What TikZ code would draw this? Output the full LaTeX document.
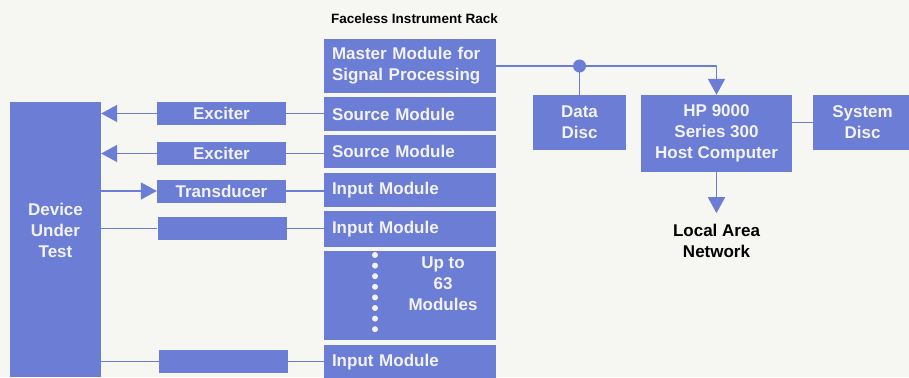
\documentclass[tikz,border=0pt]{standalone}
\usepackage{fontspec}
\setmainfont{Liberation Sans}
\usepackage{tikz}
\usetikzlibrary{positioning,arrows.meta}
\definecolor{hpblue}{RGB}{108,125,214}
\definecolor{paper}{RGB}{246,246,243}
\definecolor{boxtext}{RGB}{242,242,248}

\begin{document}
\begin{tikzpicture}[x=1pt, y=-1pt, >={Triangle[length=16pt,width=17pt]}, line join=round,
		blk/.style={fill=hpblue, text=boxtext, font=\bfseries\fontsize{17}{21}\selectfont, inner sep=0pt, align=center},
		rackmod/.style={blk, minimum width=172pt, text width=156pt, align=left},
		sidebox/.style={blk, minimum width=129pt, minimum height=23pt},
		sig/.style={draw=hpblue, line width=1.7pt}]
		\fill[paper] (0,0) rectangle (909,377);
		\useasboundingbox (0,0) rectangle (909,377);
		
		% device under test and its front ends
		\node[blk, minimum width=91pt, minimum height=275pt] (dut) at (55.5,239.5) {};
		\node[blk, fill=none] (dutlbl) at (55.5,230) {Device\\Under\\Test};
		\node[sidebox] (exa) at (221.5,113.5) {Exciter};
		\node[sidebox] (exb) at (221.5,153.5) {Exciter};
		\node[sidebox] (trd) at (221.5,191) {Transducer};
		\node[sidebox] (ema) at (222,228.5) {};
		\node[sidebox] (emb) at (223.5,361.5) {};
		
		% the rack
		\node[font=\bfseries\fontsize{13.5}{16}\selectfont] (ttl) at (414.5,18.5) {Faceless Instrument Rack};
		\node[rackmod, minimum height=54pt] (mst) at (410,66) {Master Module for\\Signal Processing};
		\node[rackmod, minimum height=34pt] (srca) at (410,114) {Source Module};
		\node[rackmod, minimum height=33pt] (srcb) at (410,151.5) {Source Module};
		\node[rackmod, minimum height=34pt] (inpa) at (410,190) {Input Module};
		\node[rackmod, minimum height=36pt] (inpb) at (410,229) {Input Module};
		\node[rackmod, minimum height=89pt] (upto) at (410,295.5) {};
		\node[rackmod, minimum height=34pt] (inpc) at (410,362) {Input Module};
		\node[blk, fill=none] (uptxt) at (443,284) {Up to\\63\\Modules};
		\foreach \k in {0,...,7}
			\fill[boxtext] (375,255+10.6*\k) circle (3pt);
		
		% host side
		\node[blk, minimum width=93pt, minimum height=55pt] (dat) at (579.5,122.5) {Data\\Disc};
		\node[blk, minimum width=151pt, minimum height=77pt] (hp) at (716.5,133.5) {HP 9000\\Series 300\\Host Computer};
		\node[blk, minimum width=99pt, minimum height=55pt] (sys) at (862.5,122.5) {System\\Disc};
		\node[font=\bfseries\fontsize{17}{21}\selectfont, align=center, inner sep=0pt, below=52pt of hp] (lan) {Local Area\\Network};
		
		\draw[sig,->] (exa.west) -- (exa.west -| dut.east);
		\draw[sig,->] (exb.west) -- (exb.west -| dut.east);
		\draw[sig,->] (trd.west -| dut.east) -- (trd.west);
		\draw[sig] (ema.west -| dut.east) -- (ema.west);
		\draw[sig] (emb.west -| dut.east) -- (emb.west);
		\draw[sig] (exa.east) -- (exa.east -| srca.west);
		\draw[sig] (exb.east) -- (exb.east -| srcb.west);
		\draw[sig] (trd.east) -- (trd.east -| inpa.west);
		\draw[sig] (ema.east) -- (ema.east -| inpb.west);
		\draw[sig] (emb.east) -- (emb.east -| inpc.west);
		
		\coordinate (tap) at (dat.north |- mst.east);
		\draw[sig,->] (mst.east) -| (hp.north);
		\fill[hpblue] (tap) circle (6.5pt);
		\draw[sig] (tap) -- (dat.north);
		\draw[sig] (sys.west) -- (sys.west -| hp.east);
		\draw[sig,->] (hp.south) -- ([yshift=11pt]lan.north);
	\end{tikzpicture}
\end{document}
